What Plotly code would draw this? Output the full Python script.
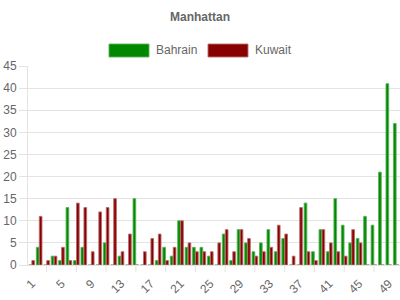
import plotly.graph_objects as go

# ---- data ----
categories = ["1", "2", "3", "4", "5", "6", "7", "8", "9", "10",
              "11", "12", "13", "14", "15", "16", "17", "18", "19", "20",
              "21", "22", "23", "24", "25", "26", "27", "28", "29", "30",
              "31", "32", "33", "34", "35", "36", "37", "38", "39", "40",
              "41", "42", "43", "44", "45", "46", "47", "48", "49", "50"]
bahrain = [0, 4, 0, 2, 1, 13, 1, 4, 0, 0,
           5, 0, 2, 0, 15, 0, 0, 1, 4, 2,
           10, 4, 4, 4, 2, 0, 7, 1, 8, 5,
           3, 5, 8, 3, 6, 0, 0, 14, 3, 8,
           3, 15, 9, 5, 6, 11, 9, 21, 41, 32]
kuwait = [1, 11, 1, 2, 4, 1, 14, 13, 3, 12,
          13, 15, 3, 7, 0, 3, 6, 7, 1, 4,
          10, 5, 3, 3, 3, 5, 8, 3, 8, 6,
          2, 3, 4, 9, 7, 2, 13, 3, 1, 8,
          5, 3, 2, 8, 5, 0, 0, 0, 0, 0]
tick_labels = ["1", "5", "9", "13", "17", "21", "25", "29", "33", "37", "41", "45", "49"]
tick_mark_cats = ["3", "7", "11", "15", "19", "23", "27", "31", "35", "39", "43", "47"]
series_names = ["Bahrain", "Kuwait"]

GREEN = "#008800"
GREEN_EDGE = "rgba(90,180,90,0.9)"
RED = "#880000"
RED_EDGE = "rgba(185,110,110,0.9)"
GRID = "#e3e3e3"
TXT = "#666666"
FONT = "Arial, Liberation Sans, sans-serif"

W, H = 400, 300
L, R, T, B = 28, 0, 66, 35
pw, ph = W - L - R, H - T - B


def px(x):
    return (x - L) / pw


def py(y):
    return (H - B - y) / ph


fig = go.Figure()
fig.add_trace(go.Bar(x=categories, y=bahrain, name=series_names[0],
                     marker=dict(color=GREEN, line=dict(color=GREEN_EDGE, width=1))))
fig.add_trace(go.Bar(x=categories, y=kuwait, name=series_names[1],
                     marker=dict(color=RED, line=dict(color=RED_EDGE, width=1))))

shapes = []
for c in tick_mark_cats:
    idx = categories.index(c)
    shapes.append(dict(type="line", xref="x", yref="paper", x0=idx, x1=idx,
                       y0=0, y1=-7 / ph, line=dict(color=GRID, width=1)))

# custom legend (wide swatches)
legend_items = [(series_names[0], GREEN, GREEN_EDGE, 109, 149),
                (series_names[1], RED, RED_EDGE, 208, 248)]
annotations = []
for name, col, edge, x0, x1 in legend_items:
    shapes.append(dict(type="rect", xref="paper", yref="paper",
                       x0=px(x0), x1=px(x1), y0=py(57), y1=py(44),
                       fillcolor=col, line=dict(color=edge, width=1)))
    annotations.append(dict(text=name, xref="paper", yref="paper",
                            x=px(x1 + 5), y=py(50), xanchor="left", yanchor="middle",
                            showarrow=False, font=dict(size=12, color=TXT, family=FONT)))

fig.update_layout(
    width=W, height=H,
    margin=dict(l=L, r=R, t=T, b=B, pad=0, autoexpand=False),
    paper_bgcolor="white", plot_bgcolor="white",
    barmode="group", bargap=0.2, bargroupgap=0.1,
    showlegend=False,
    title=dict(text="<b>Manhattan</b>", x=0.5, xanchor="center",
               y=1 - 17 / H, yanchor="middle",
               font=dict(size=12, color=TXT, family=FONT)),
    font=dict(family=FONT, size=12, color=TXT),
    shapes=shapes,
    annotations=annotations,
    xaxis=dict(type="category", range=[-0.5, len(categories) - 0.5],
               tickmode="array", tickvals=tick_labels, ticktext=tick_labels,
               tickangle=-45, showgrid=False, ticks="",
               ticklabelstandoff=6, automargin=False,
               showline=True, linecolor=GRID, linewidth=1,
               tickfont=dict(size=12, color=TXT, family=FONT)),
    yaxis=dict(range=[0, 45], tickmode="array",
               tickvals=[0, 5, 10, 15, 20, 25, 30, 35, 40, 45],
               showgrid=True, gridcolor=GRID, gridwidth=1,
               zeroline=False, ticks="outside", ticklen=8, tickcolor=GRID,
               showline=True, linecolor=GRID, linewidth=1, automargin=False,
               tickfont=dict(size=12, color=TXT, family=FONT)),
)

fig.write_html("out.html")
